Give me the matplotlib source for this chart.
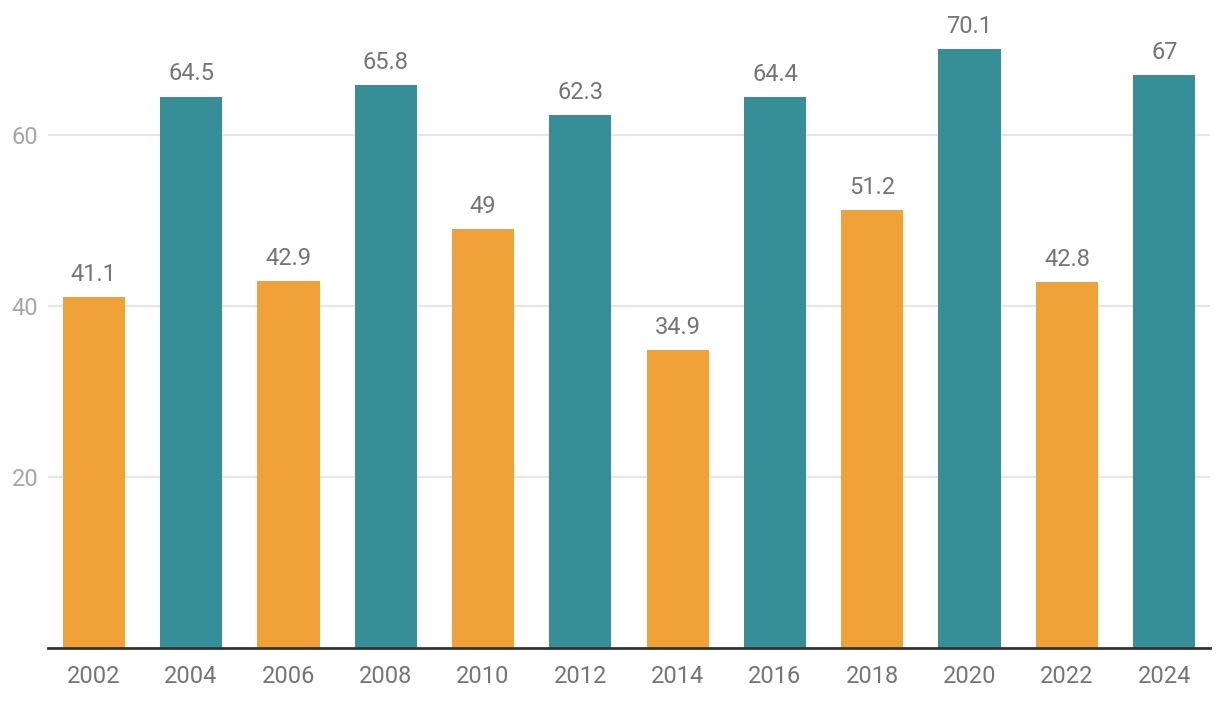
import numpy as np
import matplotlib.pyplot as plt

plt.rcParams['font.family'] = ['Roboto', 'DejaVu Sans']

years = ['2002', '2004', '2006', '2008', '2010', '2012',
         '2014', '2016', '2018', '2020', '2022', '2024']
values = [41.1, 64.5, 42.9, 65.8, 49, 62.3, 34.9, 64.4, 51.2, 70.1, 42.8, 67]
labels = ['41.1', '64.5', '42.9', '65.8', '49', '62.3',
          '34.9', '64.4', '51.2', '70.1', '42.8', '67']

orange = '#F0A238'
teal = '#368E99'
bar_colors = [orange if i % 2 == 0 else teal for i in range(len(years))]

fig = plt.figure(figsize=(12.2, 7.04), dpi=100)
ax = fig.add_axes([48 / 1220, 1 - 648 / 704, 1162 / 1220, 648 / 704])

x = np.arange(len(years))
bars = ax.bar(x, values, width=0.64, color=bar_colors, zorder=2)

for xi, v, lab in zip(x, values, labels):
    ax.annotate(lab, (xi, v), xytext=(0, 8), textcoords='offset points',
                ha='center', va='bottom', fontsize=17, color='#757575')

ax.set_xlim(-0.47, 11.47)
ax.set_ylim(0, 75.8)
ax.set_xticks(x)
ax.set_xticklabels(years, fontsize=17, color='#757575')
ax.set_yticks([20, 40, 60])
ax.set_yticklabels(['20', '40', '60'], fontsize=17, color='#a6a6a6')
ax.tick_params(axis='both', length=0)
ax.tick_params(axis='x', pad=12)
ax.tick_params(axis='y', pad=7)

ax.grid(axis='y', color='#e6e6e6', linewidth=1.5, zorder=0)
for s in ['top', 'right', 'left']:
    ax.spines[s].set_visible(False)
ax.spines['bottom'].set_color('#333333')
ax.spines['bottom'].set_linewidth(2)
ax.spines['bottom'].set_zorder(3)

plt.savefig('out.png', dpi=100)
